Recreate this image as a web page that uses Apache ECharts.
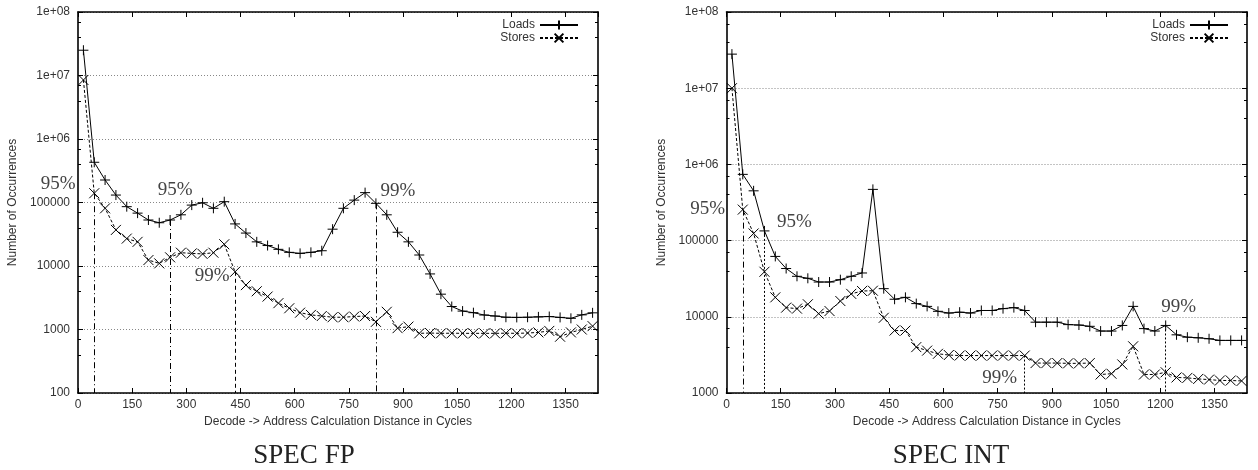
<!DOCTYPE html>
<html><head><meta charset="utf-8">
<script src="https://cdn.jsdelivr.net/npm/echarts@6/dist/echarts.min.js"></script>
<style>html,body{margin:0;padding:0;background:#fff}#c{width:1258px;height:470px}</style>
</head><body><div id="c"></div>
<script>
// ---- data ----
const cycles = [15,45,75,105,135,165,195,225,255,285,315,345,375,405,435,465,495,525,555,585,615,645,675,705,735,765,795,825,855,885,915,945,975,1005,1035,1065,1095,1125,1155,1185,1215,1245,1275,1305,1335,1365,1395,1425];

const fpLoads = [2.5e7,4.3e5,2.26e5,1.31e5,8.6e4,6.8e4,5.3e4,4.8e4,5.3e4,6.4e4,9.1e4,9.9e4,8.1e4,1.03e5,4.6e4,3.3e4,2.4e4,2.1e4,1.83e4,1.64e4,1.58e4,1.64e4,1.74e4,3.8e4,8.1e4,1.09e5,1.43e5,9.7e4,6.4e4,3.4e4,2.4e4,1.49e4,7.5e3,3.6e3,2.3e3,1.95e3,1.84e3,1.69e3,1.63e3,1.56e3,1.55e3,1.56e3,1.58e3,1.6e3,1.55e3,1.5e3,1.7e3,1.83e3];
const fpStores = [8.5e6,1.4e5,8.1e4,3.7e4,2.7e4,2.4e4,1.24e4,1.1e4,1.37e4,1.62e4,1.58e4,1.55e4,1.62e4,2.2e4,8.1e3,5.0e3,4.0e3,3.3e3,2.6e3,2.16e3,1.84e3,1.7e3,1.63e3,1.56e3,1.56e3,1.6e3,1.63e3,1.32e3,1.9e3,1.05e3,1.11e3,870,880,870,875,870,870,870,870,875,870,880,900,950,770,900,1000,1130];

const intLoads = [2.8e7,7.4e5,4.5e5,1.34e5,6.2e4,4.3e4,3.4e4,3.2e4,2.86e4,2.86e4,3.07e4,3.4e4,3.76e4,4.7e5,2.34e4,1.7e4,1.8e4,1.49e4,1.37e4,1.18e4,1.12e4,1.15e4,1.12e4,1.21e4,1.21e4,1.28e4,1.32e4,1.21e4,8.5e3,8.5e3,8.5e3,7.9e3,7.8e3,7.5e3,6.5e3,6.5e3,7.7e3,1.37e4,7.0e3,6.5e3,7.7e3,5.8e3,5.4e3,5.3e3,5.15e3,4.9e3,4.9e3,4.9e3];
const intStores = [1.0e7,2.55e5,1.24e5,3.9e4,1.8e4,1.32e4,1.28e4,1.46e4,1.1e4,1.19e4,1.61e4,2.0e4,2.18e4,2.2e4,9.7e3,6.6e3,6.6e3,4.0e3,3.6e3,3.27e3,3.15e3,3.1e3,3.1e3,3.1e3,3.1e3,3.1e3,3.1e3,3.1e3,2.47e3,2.47e3,2.47e3,2.45e3,2.45e3,2.47e3,1.75e3,1.79e3,2.37e3,4.1e3,1.75e3,1.75e3,1.87e3,1.6e3,1.58e3,1.53e3,1.5e3,1.46e3,1.46e3,1.44e3];

// percentile markers: cycle position + label
const fpLoadsPct = [[255,'95%'],[825,'99%']];
const fpStoresPct = [[45,'95%'],[435,'99%']];
const intLoadsPct = [[105,'95%'],[1215,'99%']];
const intStoresPct = [[45,'95%'],[825,'99%']];

const xLabelName = 'Decode -> Address Calculation Distance in Cycles';
const yLabelName = 'Number of Occurrences';
const captions = ['SPEC FP','SPEC INT'];

// ---- styles ----
const PLUS = 'path://M0,5L10,5M5,0L5,10';
const CROSS = 'path://M0,0L10,10M0,10L10,0';
const SANS = 'Liberation Sans';
const SERIF = 'Liberation Serif';
const DASHDOT = [6,3,1,3];
const DASHED = [4,3];
const DOTTED = [2,2];
const pctStyle = {
  fpLoads:   [{off:[5,-30], dash:DASHDOT}, {off:[22,-12], dash:DASHDOT}],
  fpStores:  [{off:[-36,-9], dash:DASHDOT}, {off:[-23,4], dash:DASHED}],
  intLoads:  [{off:[30,-9], dash:DOTTED}, {off:[13,-18], dash:DOTTED}],
  intStores: [{off:[-35,-1], dash:DASHDOT}, {off:[-25,22], dash:DOTTED}]
};

function pair(ys){ return cycles.map((c,i)=>[c, ys[i]]); }
function valAt(ys, c){ return ys[cycles.indexOf(c)]; }
function yFmt(v){
  if (v >= 1e6) { const e = Math.round(Math.log10(v)); return '1e+' + (e<10?'0':'') + e; }
  return String(Math.round(v));
}
function xFmt(v){ return String(v); }

const mins = [100, 1000];

function xAx(g, pos){
  return {
    type:'value', gridIndex:g, position:pos, min:0, max:1440, interval:150,
    axisLine:{show:true, onZero:false, lineStyle:{color:'#000', width:1.6}},
    axisTick:{show:true, inside:true, length:5, lineStyle:{color:'#000', width:1}},
    axisLabel:{show:pos==='bottom', showMaxLabel:false, formatter:xFmt, color:'#333', fontSize:12, fontFamily:SANS, margin:6},
    splitLine:{show:false},
    name: pos==='bottom' ? xLabelName : '',
    nameLocation:'middle', nameGap:23,
    nameTextStyle:{color:'#333', fontSize:12, fontFamily:SANS}
  };
}
function yAx(g, pos){
  return {
    type:'log', logBase:10, gridIndex:g, position:pos, min:mins[g], max:1e8,
    splitNumber: g===0 ? 6 : 5,
    axisLine:{show:true, onZero:false, lineStyle:{color:'#000', width:1.6}},
    axisTick:{show:true, inside:true, length:5, lineStyle:{color:'#000', width:1}},
    minorTick:{show:true, splitNumber:3, length:3, lineStyle:{color:'#000', width:1}},
    axisLabel:{show:pos==='left', formatter:yFmt, color:'#333', fontSize:12, fontFamily:SANS, margin:8},
    splitLine:{show:pos==='left', lineStyle:{color:'#888', width:1, type:[1,2]}},
    name: pos==='left' ? yLabelName : '',
    nameLocation:'middle', nameGap:59, nameRotate:90,
    nameTextStyle:{color:'#333', fontSize:12, fontFamily:SANS}
  };
}

function mkSeries(name, g, ys, pcts, styles, isLoad){
  const min = mins[g];
  return {
    name, type:'line', xAxisIndex:g*2, yAxisIndex:g*2, data:pair(ys),
    symbol: isLoad ? PLUS : CROSS, symbolSize:10, showAllSymbol:true,
    lineStyle:{color:'#000', width:1, type: isLoad ? 'solid' : [3,2]},
    itemStyle:{color:'#000', borderColor:'#000', borderWidth:1},
    emphasis:{disabled:true}, animation:false, z: isLoad ? 3 : 2,
    markLine:{
      silent:true, symbol:['none','none'], label:{show:false}, animation:false,
      data: pcts.map((p,i)=>[
        {coord:[p[0], valAt(ys,p[0])], lineStyle:{color:'#000', width:1, type:styles[i].dash}},
        {coord:[p[0], min]}
      ])
    },
    markPoint:{
      silent:true, symbol:'circle', symbolSize:1, itemStyle:{color:'rgba(0,0,0,0)'}, animation:false,
      data: pcts.map((p,i)=>({
        coord:[p[0], valAt(ys,p[0])],
        label:{show:true, formatter:p[1], position:'inside', offset:styles[i].off,
          color:'#444', fontSize:19, fontFamily:SERIF}
      }))
    }
  };
}

function legendAt(right){
  return {
    orient:'vertical', right:right, top:14, align:'right',
    itemWidth:38, itemHeight:11, itemGap:1,
    data:['Loads','Stores'],
    textStyle:{color:'#333', fontSize:12, fontFamily:SANS, padding:[0,0,0,0]},
    selectedMode:false
  };
}

const capStyle = {fontFamily:SERIF, fontSize:27, fontWeight:'normal', color:'#222'};
const option = {
  backgroundColor:'#fff',
  animation:false,
  title:[
    {text:captions[0], left:304, top:442, textAlign:'center', padding:0, textStyle:capStyle},
    {text:captions[1], left:951, top:442, textAlign:'center', padding:0, textStyle:capStyle}
  ],
  legend:[legendAt(1258-584), legendAt(1258-1234)],
  grid:[
    {left:78, top:12, width:520, height:381, outerBoundsMode:'none'},
    {left:726.5, top:12, width:520.5, height:381, outerBoundsMode:'none'}
  ],
  xAxis:[xAx(0,'bottom'), xAx(0,'top'), xAx(1,'bottom'), xAx(1,'top')],
  yAxis:[yAx(0,'left'), yAx(0,'right'), yAx(1,'left'), yAx(1,'right')],
  series:[
    mkSeries('Loads', 0, fpLoads, fpLoadsPct, pctStyle.fpLoads, true),
    mkSeries('Stores', 0, fpStores, fpStoresPct, pctStyle.fpStores, false),
    mkSeries('Loads', 1, intLoads, intLoadsPct, pctStyle.intLoads, true),
    mkSeries('Stores', 1, intStores, intStoresPct, pctStyle.intStores, false)
  ]
};
const chart = echarts.init(document.getElementById('c'), null, {renderer:'canvas'});
chart.setOption(option);
</script></body></html>
